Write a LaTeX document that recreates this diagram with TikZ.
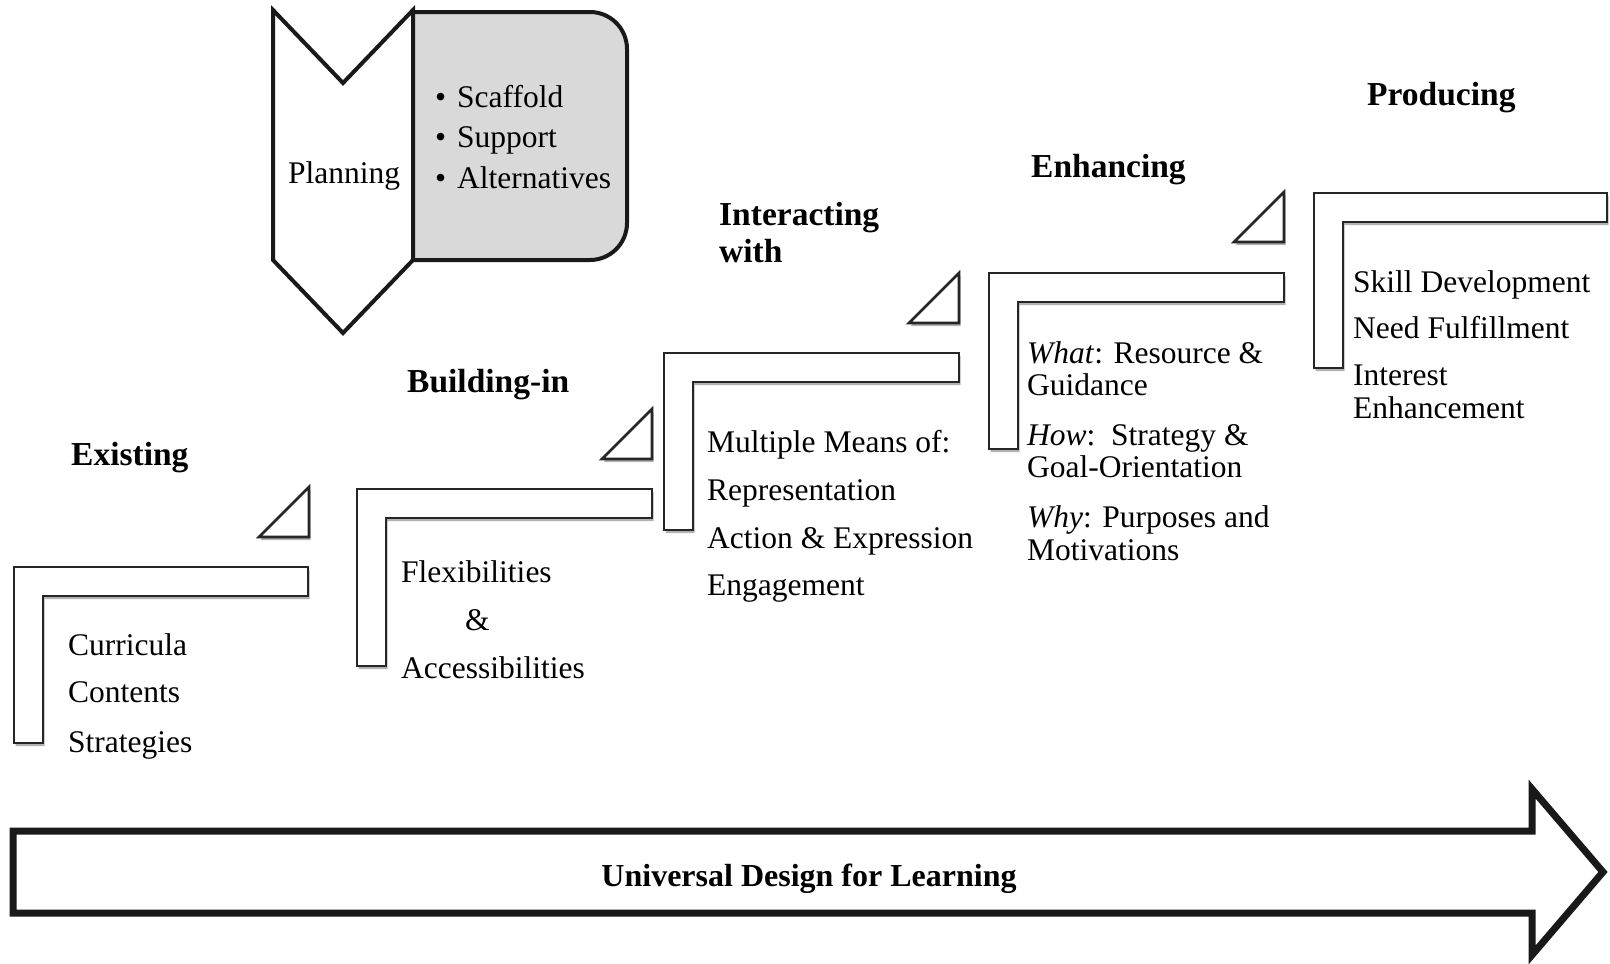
\documentclass[tikz,border=0pt]{standalone}
\usepackage{fontspec}
\setmainfont{Liberation Serif}
\usetikzlibrary{positioning,shadows}
\tikzset{stage label/.style={anchor=base west,inner sep=0pt,font=\fontsize{33.5}{36}\selectfont\bfseries},
            item text/.style={anchor=base west,inner sep=0pt,font=\fontsize{31.5}{36}\selectfont},
            stair/.style={draw=black!85,line width=2.6pt,fill=white,line join=miter,
                drop shadow={shadow xshift=1.5pt,shadow yshift=-3pt,opacity=0.3,fill=black}},
            plan shape/.style={draw=black!90,line width=4pt,fill=white,line join=miter},
            big arrow/.style={draw=black!90,line width=7pt,fill=white,line join=miter},
            }

\begin{document}
\begin{tikzpicture}[x=1pt,y=-1pt]
    \useasboundingbox (0,0) rectangle (1610,964);

    % stairs and their small wedges
    \foreach \xa/\ya/\xb/\yb in {14/567/308/743, 357/489/652/666, 664/353/959/530, 989/273/1284/449, 1314/193/1607/368}
        \draw[stair] (\xa,\ya) -- (\xb,\ya) -- (\xb,\ya+29) -- (\xa+29,\ya+29) -- (\xa+29,\yb) -- (\xa,\yb) -- cycle;
    \foreach \xb/\yb in {309/537, 652/459, 959/323, 1284/242}
        \draw[stair] (\xb-50,\yb) -- (\xb,\yb) -- (\xb,\yb-50) -- cycle;

    % planning block
    \begin{scope}
        \clip (413,0) rectangle (640,300);
        \draw[plan shape,fill=gray!30,rounded corners=37pt] (360,12) rectangle (627,260);
    \end{scope}
    \draw[plan shape] (273,10) -- (343,83) -- (413,10) -- (413,260) -- (343,333) -- (273,260) -- cycle;

    \node[item text] (planning) at (288,183) {Planning};
    \node[item text] (scaffold) at (435,107) {\textbullet\hspace{11pt}Scaffold};
    \node[item text] (support) at (435,147) {\textbullet\hspace{11pt}Support};
    \node[item text] (alternatives) at (435,188) {\textbullet\hspace{11pt}Alternatives};

    % bottom arrow
    \draw[big arrow] (13,831) -- (1532,831) -- (1532,789) -- (1603,872) -- (1532,955) -- (1532,913) -- (13,913) -- cycle;
    \node[font=\fontsize{32}{36}\selectfont\bfseries] (udl) at (809,879) {Universal Design for Learning};

    % stage labels
    \node[stage label] (existing) at (71,465) {Existing};
    \node[stage label] (building) at (407,392) {Building-in};
    \node[stage label] (interacting) at (719,225) {Interacting};
    \node[stage label] (with) at (719,262) {with};
    \node[stage label] (enhancing) at (1031,177) {Enhancing};
    \node[stage label] (producing) at (1367,105) {Producing};

    % step texts
    \node[item text] (curricula) at (68,655) {Curricula};
    \node[item text] (contents) at (68,702) {Contents};
    \node[item text] (strategies) at (68,752) {Strategies};

    \node[item text] (flex) at (401,582) {Flexibilities};
    \node[item text] (amp) at (465,630) {\&};
    \node[item text] (access) at (401,678) {Accessibilities};

    \node[item text] (means) at (707,452) {Multiple Means of:};
    \node[item text] (repr) at (707,500) {Representation};
    \node[item text] (action) at (707,548) {Action \& Expression};
    \node[item text] (engage) at (707,595) {Engagement};

    \node[item text] (what) at (1027,363) {\textit{What}: Resource \&};
    \node[item text] (guidance) at (1027,395) {Guidance};
    \node[item text] (how) at (1027,445) {\textit{How}:\ \ Strategy \&};
    \node[item text] (goal) at (1027,477) {Goal-Orientation};
    \node[item text] (why) at (1027,527) {\textit{Why}: Purposes and};
    \node[item text] (motiv) at (1027,560) {Motivations};

    \node[item text] (skill) at (1353,292) {Skill Development};
    \node[item text] (need) at (1353,338) {Need Fulfillment};
    \node[item text] (interest) at (1353,385) {Interest};
    \node[item text] (enhancement) at (1353,418) {Enhancement};
\end{tikzpicture}
\end{document}
